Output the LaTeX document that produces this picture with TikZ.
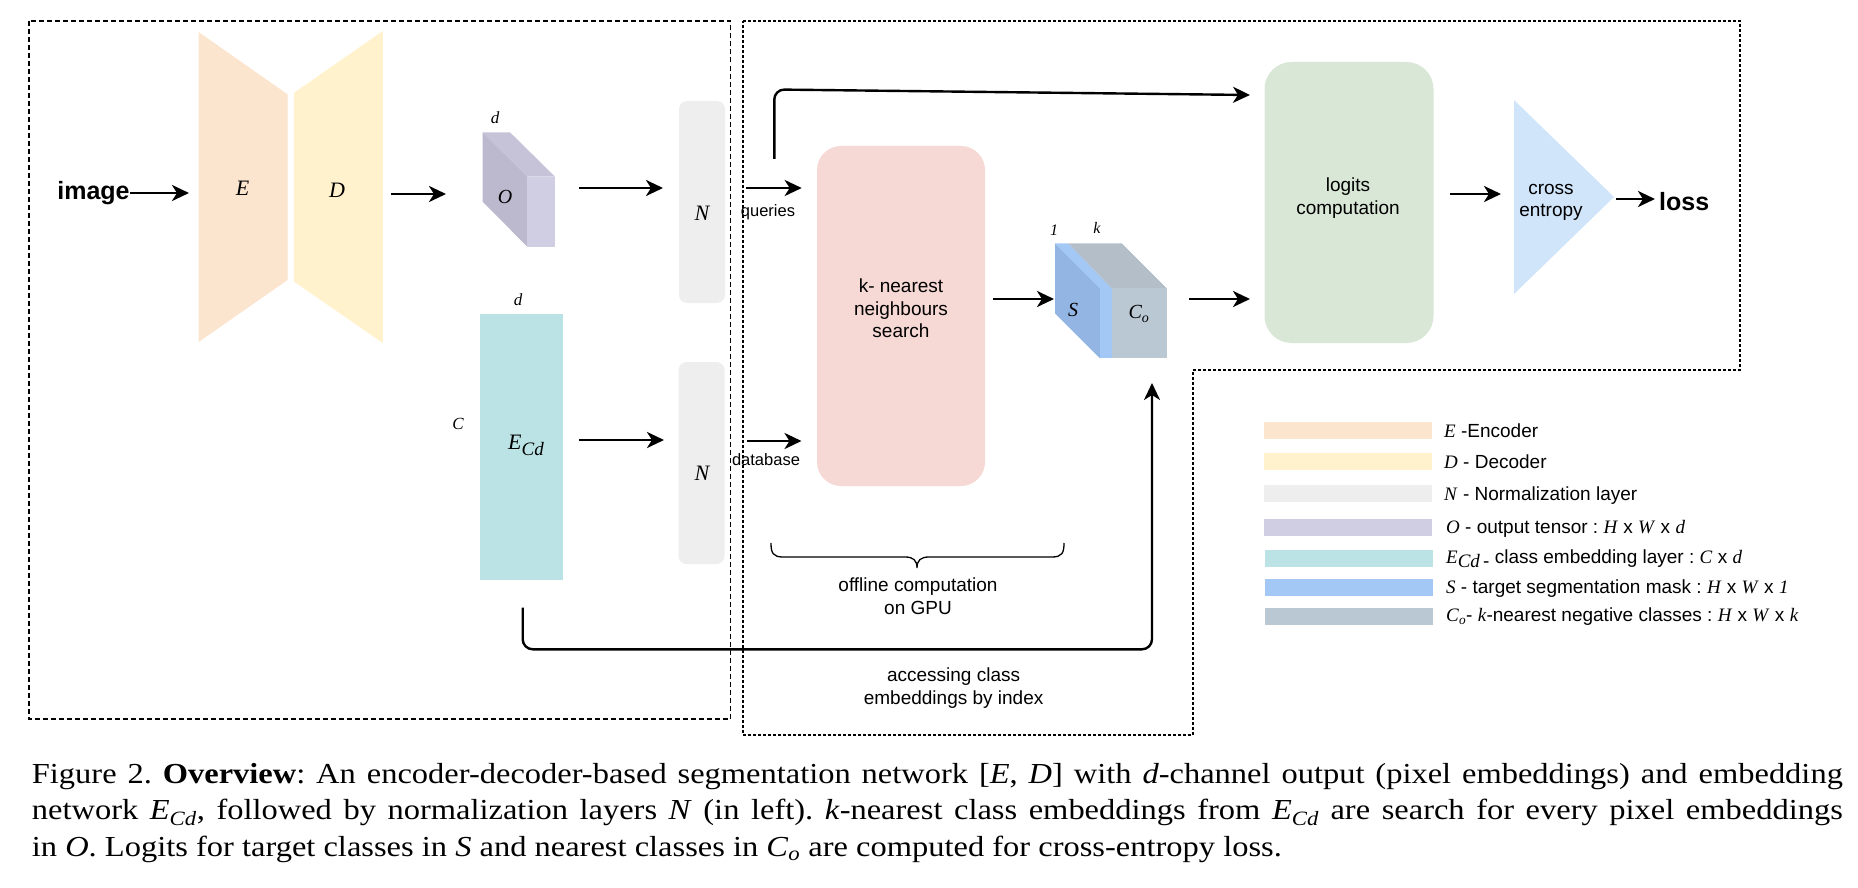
\documentclass[tikz,border=0pt]{standalone}
\usepackage{fontspec}
\setmainfont{Liberation Serif}
\setsansfont{Liberation Sans}
\newfontfamily\capfont[FakeStretch=1.12]{Liberation Serif}
\usetikzlibrary{arrows.meta}
\definecolor{cE}{HTML}{FBE5CE}
\definecolor{cD}{HTML}{FFF2CC}
\definecolor{cN}{HTML}{EEEEEE}
\definecolor{cOf}{HTML}{D0CEE2}
\definecolor{cOs}{HTML}{BCB8CE}
\definecolor{cOt}{HTML}{C6C3D8}
\definecolor{cEcd}{HTML}{BBE2E4}
\definecolor{cKnn}{HTML}{F6D8D4}
\definecolor{cSs}{HTML}{92B5E3}
\definecolor{cSl}{HTML}{A3C8F5}
\definecolor{cCt}{HTML}{B3BEC8}
\definecolor{cCf}{HTML}{BAC8D3}
\definecolor{cLog}{HTML}{D9E7D6}
\definecolor{cCE}{HTML}{D0E4FA}
\newcommand{\mi}[1]{\textrm{\itshape #1}}
\frenchspacing
\begin{document}
\begin{tikzpicture}[x=1pt,y=-1pt,
  arr/.style={line width=2.9pt,-{Stealth[length=17pt,width=16pt,inset=5pt]}},
  conn/.style={line width=2.4pt,rounded corners=10pt,-{Stealth[length=17pt,width=16pt,inset=5pt]}},
  lbl/.style={font=\sffamily\fontsize{19}{22.5}\selectfont,align=center,inner sep=0},
  sm/.style={font=\sffamily\fontsize{16.5}{18}\selectfont,inner sep=0},
  mlab/.style={font=\rmfamily\itshape\fontsize{22}{22}\selectfont,inner sep=0},
  olab/.style={font=\rmfamily\itshape\fontsize{20}{20}\selectfont,inner sep=0},
  slab/.style={font=\rmfamily\itshape\fontsize{17}{17}\selectfont,inner sep=0},
  nbox/.style={fill=cN,rounded corners=8pt,minimum width=46pt,minimum height=202pt,inner sep=0},
  swatch/.style={fill=#1,minimum width=168pt,minimum height=17pt,inner sep=0},
  legt/.style={font=\sffamily\fontsize{19}{22}\selectfont,anchor=west,inner sep=0},
  boxl/.style={draw,line width=1.3pt,dash pattern=on 5pt off 3pt},
  boxr/.style={draw,line width=1.3pt,dash pattern=on 3pt off 2pt},
  bold/.style={font=\sffamily\bfseries\fontsize{25}{25}\selectfont,inner sep=0}
]
\useasboundingbox (0,0) rectangle (1858,888);

% dashed regions
\draw[boxl] (29,21) rectangle (730.5,719);
\draw[boxr] (743,21) -- (1740,21) -- (1740,370) -- (1193,370) -- (1193,735) -- (743,735) -- cycle;

% encoder / decoder
\fill[cE] (198.6,32) -- (287.6,94.3) -- (287.6,280) -- (198.6,342) -- cycle;
\fill[cD] (293.8,93) -- (382.8,31) -- (382.8,343) -- (293.8,281.5) -- cycle;
\node[mlab] (Elab) at (242.6,188) {E};
\node[mlab] (Dlab) at (337,190) {D};
\node[bold] (img) at (93.5,193) {image};

% output tensor O
\fill[cOs] (482.7,132.3) -- (527.3,176.7) -- (527.3,246.7) -- (482.7,201.7) -- cycle;
\fill[cOt] (482.7,132.3) -- (510,132.3) -- (555,176.7) -- (527.3,176.7) -- cycle;
\fill[cOf] (527.3,176.7) rectangle (555,246.7);
\node[olab] (Olab) at (505,197) {O};
\node[slab] (dO) at (495,118) {d};

% normalization layers
\node[nbox] (N1) at (702,202) {};
\node[mlab] (N1lab) at (702,213) {N};
\node[nbox] (N2) at (701.5,463) {};
\node[mlab] (N2lab) at (702,473) {N};

% class embedding
\node[fill=cEcd,minimum width=83pt,minimum height=266pt,inner sep=0] (Ecd) at (521.5,447) {};
\node[mlab] (Ecdlab) at (526,445) {E\raisebox{-6pt}{\fontsize{19}{19}\selectfont Cd}};
\node[slab] (dE) at (518,300) {d};
\node[slab] (Clab) at (458,424) {C};

% kNN
\node[fill=cKnn,rounded corners=24pt,minimum width=168pt,minimum height=340pt,inner sep=0] (knn) at (901,316) {};
\node[lbl] (knntxt) at (901,308.5) {k- nearest\\neighbours\\search};
\node[sm] (q) at (768,212) {queries};
\node[sm] (db) at (766,460) {database};

% S / Co tensor
\fill[cSs] (1055,243.3) -- (1100,288.3) -- (1100,358.3) -- (1055,313.3) -- cycle;
\fill[cSl] (1055,243.3) -- (1068.3,243.3) -- (1111.7,288.3) -- (1100,288.3) -- cycle;
\fill[cSl] (1100,288.3) rectangle (1111.7,358.3);
\fill[cCt] (1068.3,243.3) -- (1121.7,243.3) -- (1166.7,288.3) -- (1111.7,288.3) -- cycle;
\fill[cCf] (1111.7,288.3) rectangle (1166.7,358.3);
\node[olab] (Slab) at (1073,310) {S};
\node[olab] (Colab) at (1139,314) {C\textsubscript{o}};
\node[font=\rmfamily\itshape\fontsize{16}{16}\selectfont,inner sep=0] (one) at (1054,230) {1};
\node[font=\rmfamily\itshape\fontsize{16}{16}\selectfont,inner sep=0] (kl) at (1097,228) {k};

% logits, cross entropy, loss
\node[fill=cLog,rounded corners=27pt,minimum width=169pt,minimum height=281pt,inner sep=0] (logit) at (1349,202.5) {};
\node[lbl] (logtxt) at (1348,198) {logits\\computation};
\fill[cCE] (1514,100) -- (1614,197) -- (1514,294) -- cycle;
\node[lbl] (cetxt) at (1551,202.5) {cross\\entropy};
\node[bold,anchor=west] (loss) at (1659,202) {loss};

% brace
\draw[line width=1.3pt] (771,543) .. controls (771,553) and (773,557) .. (783,557) -- (905,557)
  .. controls (913,557) and (917,560) .. (917,568) .. controls (917,560) and (921,557) .. (929,557)
  -- (1052,557) .. controls (1062,557) and (1064,553) .. (1064,543);
\node[lbl] (off) at (918,596) {offline computation\\on GPU};
\node[lbl] (acc) at (953.6,688) {accessing class\\embeddings by index};

% arrow end points
\coordinate (a1) at (189,193);
\coordinate (a2s) at (391,194);  \coordinate (a2e) at (446,194);
\coordinate (a3s) at (579,188);  \coordinate (a3e) at (663,188);
\coordinate (a4s) at (746,188);  \coordinate (a4e) at (801.7,188);
\coordinate (t1) at (774.3,159); \coordinate (t2) at (774.3,89.5); \coordinate (t3) at (1250,95);
\coordinate (a6s) at (993,299);  \coordinate (a6e) at (1054,299);
\coordinate (a7s) at (1189,299); \coordinate (a7e) at (1250,299);
\coordinate (a8s) at (1450,194); \coordinate (a8e) at (1501,194);
\coordinate (a9s) at (1616,199); \coordinate (a9e) at (1655,199);
\coordinate (a10s) at (579,440); \coordinate (a10e) at (664,440);
\coordinate (a11s) at (747,441); \coordinate (a11e) at (801.5,441);
\coordinate (b1) at (522.7,607.7); \coordinate (b2) at (522.7,649.3);
\coordinate (b3) at (1152,649.3); \coordinate (b4) at (1152,383);

\draw[arr] (img.east) -- (a1);
\draw[arr] (a2s) -- (a2e);
\draw[arr] (a3s) -- (a3e);
\draw[arr] (a4s) -- (a4e);
\draw[conn] (t1) -- (t2) -- (t3);
\draw[arr] (a6s) -- (a6e);
\draw[arr] (a7s) -- (a7e);
\draw[arr] (a8s) -- (a8e);
\draw[arr] (a9s) -- (a9e);
\draw[arr] (a10s) -- (a10e);
\draw[arr] (a11s) -- (a11e);
\draw[conn] (b1) -- (b2) -- (b3) -- (b4);

% legend
\node[swatch=cE]   (sw1) at (1348,430)   {};
\node[swatch=cD]   (sw2) at (1348,461.3) {};
\node[swatch=cN]   (sw3) at (1348,493.3) {};
\node[swatch=cOf]  (sw4) at (1348,527.8) {};
\node[swatch=cEcd] (sw5) at (1349,558.7) {};
\node[swatch=cSl]  (sw6) at (1349,587.8) {};
\node[swatch=cCf]  (sw7) at (1349,616)   {};
\node[legt] (lt1) at (1444,431) {\mi{E} -Encoder};
\node[legt] (lt2) at (1444,462) {\mi{D} - Decoder};
\node[legt] (lt3) at (1444,496) {\mi{N} - Normalization layer};
\node[legt] (lt4) at (1446,529) {\mi{O} - output tensor : \mi{H} x \mi{W} x \mi{d}};
\node[legt] (lt5) at (1446,559) {\mi{E}\raisebox{-4pt}{\mi{Cd}\,-} class embedding layer : \mi{C} x \mi{d}};
\node[legt] (lt6) at (1446,589) {\mi{S} - target segmentation mask : \mi{H} x \mi{W} x \mi{1}};
\node[legt] (lt7) at (1446,617) {\mi{C}\textsubscript{\mi{o}}- \mi{k}-nearest negative classes : \mi{H} x \mi{W} x \mi{k}};

% caption
\node[anchor=base west,inner sep=0,font=\capfont\fontsize{29}{36.5}\selectfont] (cap) at (31.7,783.3) {\parbox[t]{1811pt}{%
\makebox[1811pt][s]{Figure 2. \textbf{Overview}: An encoder-decoder-based segmentation network [\textit{E}, \textit{D}] with \textit{d}-channel output (pixel embeddings) and embedding}\\
\makebox[1811pt][s]{network \textit{E}\textsubscript{\textit{Cd}}, followed by normalization layers \textit{N} (in left). \textit{k}-nearest class embeddings from \textit{E}\textsubscript{\textit{Cd}} are search for every pixel embeddings}\\
in \textit{O}. Logits for target classes in \textit{S} and nearest classes in \textit{C}\textsubscript{\textit{o}} are computed for cross-entropy loss.}};
\end{tikzpicture}
\end{document}
